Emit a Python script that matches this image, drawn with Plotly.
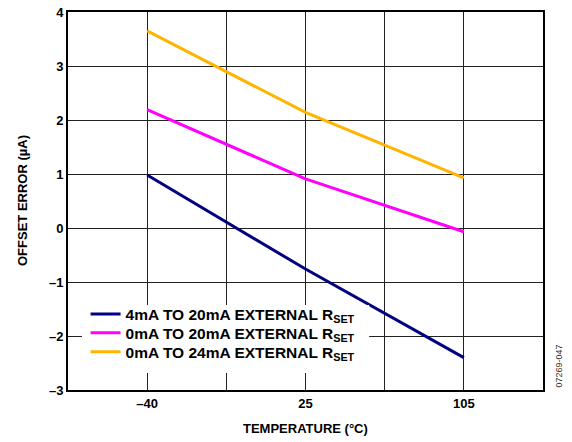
import plotly.graph_objects as go

# temperature slots on the x axis (blank slots are the unlabeled grid columns)
x_slots = ["s0", "–40", "s2", "25", "s4", "105", "s6"]
x_labels = ["", "–40", "", "25", "", "105", ""]

temps = ["–40", "25", "105"]
err_4_20 = [0.98, -0.76, -2.40]
err_0_20 = [2.19, 0.91, -0.07]
err_0_24 = [3.65, 2.14, 0.93]

y_ticks = [-3, -2, -1, 0, 1, 2, 3, 4]
y_labels = ["–3", "–2", "–1", "0", "1", "2", "3", "4"]

series = [
    ("4mA TO 20mA EXTERNAL R<sub>SET</sub>", err_4_20, "#000080"),
    ("0mA TO 20mA EXTERNAL R<sub>SET</sub>", err_0_20, "#FF00FF"),
    ("0mA TO 24mA EXTERNAL R<sub>SET</sub>", err_0_24, "#FFB400"),
]

font = "Liberation Sans, Arial, sans-serif"
bold13 = dict(family=font, size=13, color="black", weight="bold")

fig = go.Figure()
# one legend per entry so the row pitch can be tighter
legend_ids = ["legend", "legend2", "legend3"]
legend_rows = [0.200, 0.150, 0.100]

for (name, vals, col), lid in zip(series, legend_ids):
    fig.add_trace(go.Scatter(x=temps, y=vals, mode="lines", name=name,
                             legend=lid, line=dict(color=col, width=3)))

legend_style = dict(x=0.037, xanchor="left", yanchor="middle",
                    bgcolor="rgba(0,0,0,0)", borderwidth=0,
                    font=dict(family=font, size=15.5, color="black", weight="bold"),
                    itemwidth=30)

fig.update_layout(
    width=572, height=442,
    margin=dict(l=68, r=29, t=12, b=52, autoexpand=False),
    plot_bgcolor="white", paper_bgcolor="white",
    font=dict(family=font, size=13, color="black"),
    showlegend=True,
)
for lid, ly in zip(legend_ids, legend_rows):
    fig.update_layout({lid: dict(y=ly, **legend_style)})

# white patch behind the legend text that hides the grid there
fig.add_shape(type="rect", xref="paper", yref="paper",
              x0=0.0295, x1=0.634, y0=0.045, y1=0.225,
              fillcolor="white", line_width=0, layer="above")

fig.update_xaxes(
    type="category", categoryorder="array", categoryarray=x_slots,
    range=[0, 6], tickmode="array", tickvals=x_slots, ticktext=x_labels,
    showgrid=True, gridcolor="#222", gridwidth=1,
    showline=True, linecolor="black", linewidth=2, mirror=True,
    ticks="", zeroline=False, automargin=False,
    tickfont=bold13,
)
fig.update_yaxes(
    range=[-3, 4], tickmode="array", tickvals=y_ticks, ticktext=y_labels,
    showgrid=True, gridcolor="#222", gridwidth=1,
    showline=True, linecolor="black", linewidth=2, mirror=True,
    ticks="", zeroline=False, automargin=False,
    tickfont=bold13,
)

fig.add_annotation(text="TEMPERATURE (°C)", xref="paper", yref="paper",
                   x=0.5, y=-38 / 378, xanchor="center", yanchor="middle",
                   showarrow=False, font=bold13)
fig.add_annotation(text="OFFSET ERROR (µA)", xref="paper", yref="paper",
                   x=-46 / 475, y=0.5, xanchor="center", yanchor="middle",
                   textangle=-90, showarrow=False, font=bold13)
fig.add_annotation(text="07269-047", xref="paper", yref="paper",
                   x=15 / 475 + 1, y=0, xanchor="center", yanchor="bottom",
                   textangle=-90, showarrow=False,
                   font=dict(family=font, size=9, color="#333"))

# page body has an 8px default margin; drop it so the figure sits at 0,0
fig.write_html("out.html", config={"displayModeBar": False},
               post_script="document.body.style.margin='0';")
